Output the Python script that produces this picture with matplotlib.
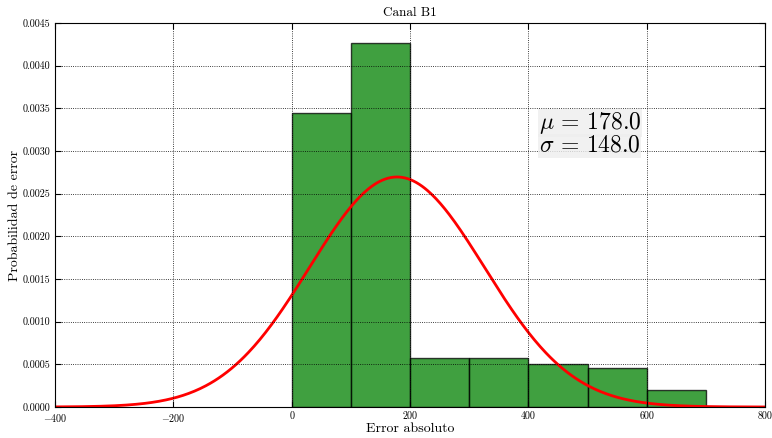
import matplotlib
matplotlib.use('Agg')
import matplotlib.pyplot as plt
import numpy as np

# histogram of absolute error, channel B1 (density per bin)
bin_edges = [0, 100, 200, 300, 400, 500, 600, 700]
densities = [0.00344, 0.00426, 0.00058, 0.00058, 0.00050, 0.00046, 0.00020]
mu = 178.0
sigma = 148.0
xticks = [-400, -200, 0, 200, 400, 600, 800]

plt.rcParams['font.family'] = 'serif'
plt.rcParams['font.serif'] = ['cmr10']
plt.rcParams['mathtext.fontset'] = 'cm'
plt.rcParams['axes.formatter.use_mathtext'] = True
plt.rcParams['xtick.direction'] = 'in'
plt.rcParams['ytick.direction'] = 'in'
plt.rcParams['xtick.top'] = True
plt.rcParams['ytick.right'] = True

fig = plt.figure(figsize=(7.72, 4.38), dpi=100)
ax = fig.add_axes([55/772, 1-407/438, 710/772, 384/438])

lefts = bin_edges[:-1]
widths = np.diff(bin_edges)
ax.bar(lefts, densities, width=widths, align='edge', color='green',
       edgecolor='black', alpha=0.75, linewidth=1)

x = np.linspace(-400, 800, 500)
pdf = np.exp(-(x-mu)**2/(2*sigma**2))/(sigma*np.sqrt(2*np.pi))
ax.plot(x, pdf, color='red', linewidth=2)

ax.set_xlim(-400, 800)
ax.set_ylim(0, 0.0045)
ax.set_xticks(xticks)
ax.set_xticklabels([r'$\mathrm{%d}$' % t if t < 0 else str(t) for t in xticks])
ax.set_yticks(np.arange(0, 0.00451, 0.0005))
ax.yaxis.set_major_formatter(matplotlib.ticker.FormatStrFormatter('%.4f'))
ax.tick_params(labelsize=7.2, length=4)
ax.grid(True, color='black', linestyle=':', linewidth=0.6)
ax.set_axisbelow(False)

ax.set_title('Canal B1', fontsize=9.5, pad=5)
ax.set_xlabel('Error absoluto', fontsize=10)
ax.set_ylabel('Probabilidad de error', fontsize=10)
ax.yaxis.set_label_coords(-0.048, 0.5)
ax.xaxis.set_label_coords(0.5, -0.042)

box = dict(facecolor='#eeeeee', edgecolor='none', pad=0.5, alpha=0.8)
ax.text(418, 0.00326, r'$\mu\,=\,%.1f$' % mu, fontsize=17,
        va='baseline', ha='left', bbox=box)
ax.text(418, 0.00299, r'$\sigma\,=\,%.1f$' % sigma, fontsize=17,
        va='baseline', ha='left', bbox=box)

fig.savefig('out.png', dpi=100)
